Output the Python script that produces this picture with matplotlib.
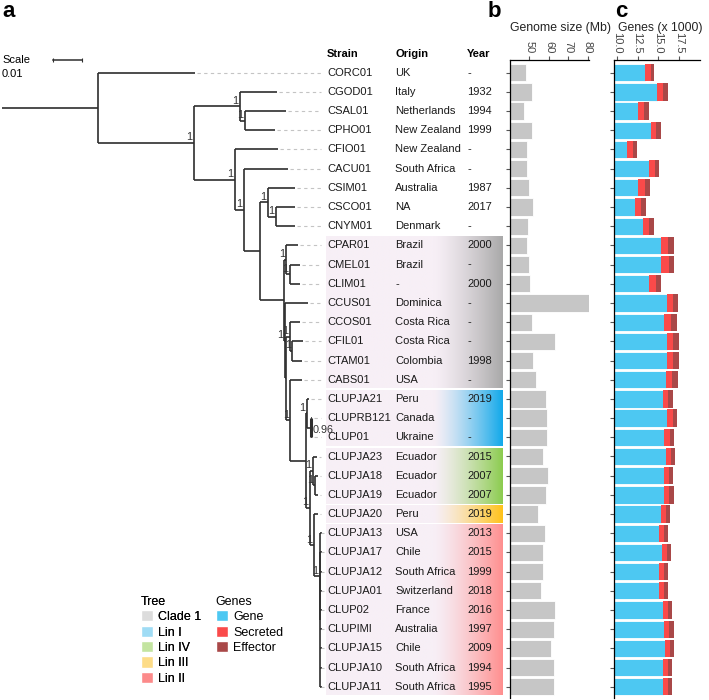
import numpy as np
import matplotlib
matplotlib.use("Agg")
from matplotlib import pyplot as plt
from matplotlib.patches import Patch
from matplotlib.colors import to_rgb

plt.rcParams.update({
    "font.family": ["Liberation Sans", "DejaVu Sans"],
    "font.size": 8,
    "axes.linewidth": 0.9,
})

# ---- data ----
strains = ["CORC01", "CGOD01", "CSAL01", "CPHO01", "CFIO01", "CACU01", "CSIM01",
           "CSCO01", "CNYM01", "CPAR01", "CMEL01", "CLIM01", "CCUS01", "CCOS01",
           "CFIL01", "CTAM01", "CABS01", "CLUPJA21", "CLUPRB121", "CLUP01",
           "CLUPJA23", "CLUPJA18", "CLUPJA19", "CLUPJA20", "CLUPJA13", "CLUPJA17",
           "CLUPJA12", "CLUPJA01", "CLUP02", "CLUPIMI", "CLUPJA15", "CLUPJA10",
           "CLUPJA11"]
origins = ["UK", "Italy", "Netherlands", "New Zealand", "New Zealand", "South Africa",
           "Australia", "NA", "Denmark", "Brazil", "Brazil", "-", "Dominica",
           "Costa Rica", "Costa Rica", "Colombia", "USA", "Peru", "Canada", "Ukraine",
           "Ecuador", "Ecuador", "Ecuador", "Peru", "USA", "Chile", "South Africa",
           "Switzerland", "France", "Australia", "Chile", "South Africa", "South Africa"]
years = ["-", "1932", "1994", "1999", "-", "-", "1987", "2017", "-", "2000", "-", "2000",
         "-", "-", "-", "1998", "-", "2019", "-", "-", "2015", "2007", "2007", "2019",
         "2013", "2015", "1999", "2018", "2016", "1997", "2009", "1994", "1995"]

genome_size = [48.2, 51.3, 47.3, 51.5, 48.6, 48.7, 49.9, 51.7, 49.4, 48.7, 49.9, 50.3,
               80.6, 51.3, 63.0, 51.7, 53.2, 58.6, 59.2, 59.0, 57.1, 59.4, 58.3, 54.4,
               58.1, 56.8, 56.8, 55.9, 63.3, 62.4, 61.2, 62.4, 62.6]

# thousands of genes
genes = [13.42, 14.86, 12.55, 14.10, 11.27, 13.86, 12.55, 12.19, 13.14, 15.33, 15.33,
         13.90, 16.05, 15.66, 15.98, 15.98, 15.86, 15.54, 16.02, 15.66, 15.86, 15.62,
         15.66, 15.30, 15.09, 15.42, 15.06, 15.06, 15.50, 15.66, 15.74, 15.50, 15.50]
secreted = [0.65, 0.65, 0.72, 0.60, 0.68, 0.68, 0.84, 0.75, 0.72, 0.80, 0.88, 0.80,
            0.72, 0.84, 0.80, 0.80, 0.76, 0.60, 0.68, 0.68, 0.63, 0.60, 0.63, 0.56,
            0.56, 0.56, 0.56, 0.56, 0.60, 0.63, 0.63, 0.60, 0.60]
effectors = [0.43, 0.60, 0.60, 0.56, 0.48, 0.55, 0.56, 0.56, 0.60, 0.68, 0.67, 0.63,
             0.60, 0.72, 0.68, 0.68, 0.68, 0.56, 0.51, 0.52, 0.52, 0.48, 0.56, 0.55,
             0.51, 0.48, 0.52, 0.52, 0.48, 0.56, 0.52, 0.52, 0.55]

group_names = ["Clade 1", "Lin I", "Lin IV", "Lin III", "Lin II"]
group_first = ["CPAR01", "CLUPJA21", "CLUPJA23", "CLUPJA20", "CLUPJA13"]
group_last = ["CABS01", "CLUP01", "CLUPJA19", "CLUPJA20", "CLUPJA11"]
group_band = ["#a9a9a9", "#12a9ea", "#8ccc50", "#ffc21a", "#ff8f8f"]
group_legend = ["#dcdcdc", "#9fdcf5", "#c3e4a0", "#fddc87", "#fc8a8a"]

gene_labels = ["Gene", "Secreted", "Effector"]
gene_colors = ["#4dc8f2", "#fa4a4a", "#a94848"]

# tree (substitution units), built from its clades
lin2 = ("(CLUPJA13:0.0007,(CLUPJA17:0.0005,CLUPJA12:0.0005,CLUPJA01:0.0005,"
        "CLUP02:0.0005,CLUPIMI:0.0005,CLUPJA15:0.0005,CLUPJA10:0.0005,"
        "CLUPJA11:0.0005):0.0002)1")
lin3_2 = "(CLUPJA20:0.0014," + lin2 + ":0.0021)1"
lin4 = "(CLUPJA23:0.0013,(CLUPJA18:0.0010,CLUPJA19:0.0010)1:0.0006)1"
lin1 = "(CLUPJA21:0.0006,(CLUPRB121:0.0005,CLUP01:0.0005)0.96:0.0012)1"
lupini = "(" + lin1 + ":0.0005,(" + lin4 + ":0.0011," + lin3_2 + ":0.0014)1:0.0014)"
clade_b = "(CCOS01:0.0034,(CFIL01:0.0036,CTAM01:0.0032)1:0.0009)1"
rest = "(CCUS01:0.0079,(" + clade_b + ":0.0012,(CABS01:0.0039," + lupini + ":0.0053)1:0.0014):0.0005)1"
clade_a = "(CPAR01:0.0039,(CMEL01:0.0034,CLIM01:0.0034)1:0.0011)1"
clade1 = "(" + clade_a + ":0.0009," + rest + ":0.0003)"
sim = "(CSIM01:0.0093,(CSCO01:0.0066,CNYM01:0.0066)1:0.0028)1"
upper = "(CGOD01:0.0128,(CSAL01:0.0141,CPHO01:0.0103)1:0.0017)1"
lower = "(CFIO01:0.0148,(CACU01:0.0152,(" + sim + ":0.0028," + clade1 + ":0.0083):0.0055)1:0.0031)1"
newick = "(CORC01:0.0334,(" + upper + ":0.0159," + lower + ":0.0141)1:0.0331):0.0331;"


def parse_newick(s):
    pos = 0

    def node():
        nonlocal pos
        kids = []
        if s[pos] == "(":
            pos += 1
            while True:
                kids.append(node())
                if s[pos] == ",":
                    pos += 1
                    continue
                pos += 1
                break
        start = pos
        while s[pos] not in ":,);":
            pos += 1
        name = s[start:pos]
        length = 0.0
        if s[pos] == ":":
            pos += 1
            start = pos
            while s[pos] not in ",);":
                pos += 1
            length = float(s[start:pos])
        return {"name": name, "length": length, "children": kids}

    return node()


def layout(nd, x0):
    nd["x"] = x0 + nd["length"]
    if nd["children"]:
        for c in nd["children"]:
            layout(c, nd["x"])
        nd["y"] = (nd["children"][0]["y"] + nd["children"][-1]["y"]) / 2
    else:
        nd["y"] = strains.index(nd["name"])


tree = parse_newick(newick)
layout(tree, 0.0)

# ---- figure geometry (pixels) ----
W, H = 709, 700
ROW0, ROWH = 72.7, 19.19
U = 0.01 / 29  # tree units per pixel

fig = plt.figure(figsize=(W / 100, H / 100), dpi=100)


def px_axes(l, t, r, b):
    ax = fig.add_axes([l / W, 1 - b / H, (r - l) / W, (b - t) / H])
    ax.set_ylim((b - ROW0) / ROWH, (t - ROW0) / ROWH)
    return ax


# ---- table (drawn first, tree goes on top) ----
ax_s = px_axes(326, 40, 503, 698)
ax_s.set_xlim(0, 177)
ax_s.axis("off")

xs = np.linspace(0, 177, 300)
w = np.clip((xs - 108) / (177 - 108), 0, 1) ** 1.3
base = np.array(to_rgb("#f7eff6"))
for name, g0, g1, col in zip(group_names, group_first, group_last, group_band):
    i0, i1 = strains.index(g0), strains.index(g1)
    grad = base[None, :] * (1 - w[:, None]) + np.array(to_rgb(col))[None, :] * w[:, None]
    ax_s.imshow(grad[None, :, :], extent=(0, 177, i1 + 0.45, i0 - 0.45),
                aspect="auto", interpolation="bilinear", zorder=0)

hdr_y = (54 - ROW0) / ROWH
for x, lab in zip([1, 69, 141], ["Strain", "Origin", "Year"]):
    ax_s.text(x, hdr_y, lab, ha="left", va="center", fontsize=8, weight="bold")
for i, (s, o, yv) in enumerate(zip(strains, origins, years)):
    ax_s.text(1, i, s, ha="left", va="center", fontsize=8, color="#1a1a1a")
    ax_s.text(69, i, o, ha="left", va="center", fontsize=8, color="#1a1a1a")
    ax_s.text(141, i, yv, ha="left", va="center", fontsize=8, color="#1a1a1a")

# ---- tree ----
ax_t = px_axes(0, 40, 330, 698)
ax_t.set_xlim(-2 * U, 328 * U)
ax_t.axis("off")
ax_t.set_zorder(3)
tree_col = "#2e2e2e"
tip_end = 319 * U


def draw(nd, px):
    ax_t.plot([px, nd["x"]], [nd["y"]] * 2, color=tree_col, lw=1.2,
              solid_capstyle="butt")
    if not nd["children"]:
        ax_t.plot([nd["x"] + 2 * U, tip_end], [nd["y"]] * 2, color="#c4c4c4",
                  lw=0.8, ls=(0, (3, 3)))
        return
    sup = float(nd["name"]) if nd["name"] else None
    lw = 2.2 if (sup is not None and sup < 1) else 1.2
    ax_t.plot([nd["x"]] * 2, [nd["children"][0]["y"], nd["children"][-1]["y"]],
              color=tree_col, lw=lw, solid_capstyle="butt")
    for c in nd["children"]:
        draw(c, nd["x"])
    if sup is not None:
        if sup < 1:
            ax_t.annotate(nd["name"], (nd["x"], nd["y"]), xytext=(1.2, -1.5),
                          textcoords="offset points", ha="left", va="center",
                          fontsize=7.8, color="#333333", annotation_clip=False)
        else:
            ax_t.annotate("1", (nd["x"], nd["y"]), xytext=(-1, 0.5),
                          textcoords="offset points", ha="right", va="bottom",
                          fontsize=7.8, color="#333333", annotation_clip=False)


draw(tree, 0.0)

# scale bar
sb_y = (60 - ROW0) / ROWH
sb_x = 51 * U
ax_t.plot([sb_x, sb_x + 0.01], [sb_y, sb_y], color=tree_col, lw=1.1)
ax_t.plot([sb_x, sb_x + 0.01], [sb_y, sb_y], ls="none", marker="|",
          ms=3, color=tree_col, mew=0.8)
ax_t.text(0, sb_y, "Scale", ha="left", va="center", fontsize=8)
ax_t.text(0, (74 - ROW0) / ROWH, "0.01", ha="left", va="center", fontsize=8)

rows = np.arange(len(strains))


def bar_axis(ax, lim, ticks, labels):
    ax.set_xlim(*lim)
    for sp in ["right", "bottom"]:
        ax.spines[sp].set_visible(False)
    ax.xaxis.tick_top()
    ax.set_xticks(ticks)
    ax.set_xticklabels(labels, rotation=-90, fontsize=8, color="#444444")
    ax.set_yticks(rows)
    ax.set_yticklabels([])
    ax.tick_params(axis="y", length=3, color="#555555", width=0.8)
    ax.tick_params(axis="x", length=3, color="#555555", width=0.8, pad=1.5)


# ---- panel b ----
ax_b = px_axes(510, 60, 589, 698)
ax_b.barh(rows, genome_size, height=0.9, color="#c6c6c6", edgecolor="white",
          linewidth=0.6)
bar_axis(ax_b, (40, 80.6), [50, 60, 70, 80], ["50", "60", "70", "80"])

# ---- panel c ----
ax_c = px_axes(613.7, 60, 700, 698)
g = np.array(genes)
sct = np.array(secreted)
eff = np.array(effectors)
ax_c.barh(rows, g, height=0.9, color=gene_colors[0], edgecolor="white", linewidth=0.6)
ax_c.barh(rows, sct, left=g, height=0.9, color=gene_colors[1], edgecolor="none")
ax_c.barh(rows, eff, left=g + sct, height=0.9, color=gene_colors[2], edgecolor="none")
bar_axis(ax_c, (9.64, 19.98), [10, 12.5, 15, 17.5], ["10.0", "12.5", "15.0", "17.5"])

fig.text(560 / W, 1 - 28 / H, "Genome size (Mb)", ha="center", va="center",
         fontsize=8.8, color="#222222")
fig.text(660 / W, 1 - 28 / H, "Genes (x 1000)", ha="center", va="center",
         fontsize=8.8, color="#222222")

# panel letters
for x, lab in [(2, "a"), (488, "b"), (615, "c")]:
    fig.text(x / W, 1 - 1 / H, lab, ha="left", va="top", fontsize=16, weight="bold")

# ---- legends ----
tree_handles = [Patch(facecolor=c, edgecolor="white") for c in group_legend]
leg1 = fig.legend(tree_handles, group_names, title="Tree", loc="upper left",
                  bbox_to_anchor=(132 / W, 1 - 587 / H), frameon=False,
                  fontsize=9, title_fontsize=9, handlelength=1.0, handleheight=1.0,
                  handletextpad=0.4, labelspacing=0.2, alignment="left",
                  borderpad=0.2)
gene_handles = [Patch(facecolor=c, edgecolor="white") for c in gene_colors]
leg2 = fig.legend(gene_handles, gene_labels, title="Genes", loc="upper left",
                  bbox_to_anchor=(207 / W, 1 - 587 / H), frameon=False,
                  fontsize=9, title_fontsize=9, handlelength=1.0, handleheight=1.0,
                  handletextpad=0.4, labelspacing=0.2, alignment="left",
                  borderpad=0.2)
fig.add_artist(leg1)

fig.savefig("out.png", dpi=100)
